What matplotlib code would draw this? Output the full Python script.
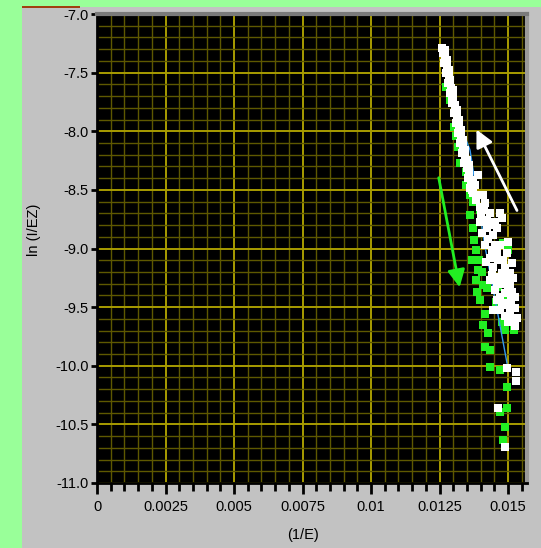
import matplotlib
matplotlib.use("Agg")
import matplotlib.pyplot as plt
from matplotlib.patches import Rectangle
from matplotlib.ticker import MultipleLocator

plt.rcParams["font.family"] = ["Liberation Sans", "DejaVu Sans"]

# white series (upper dense band + lower scatter)
white_x = [0.01259, 0.01263, 0.01270, 0.01266, 0.01277, 0.01274, 0.01285, 0.01281,
           0.01292, 0.01288, 0.01299, 0.01296, 0.01307, 0.01303, 0.01314, 0.01310,
           0.01321, 0.01318, 0.01329, 0.01325, 0.01336, 0.01332, 0.01343, 0.01339,
           0.01350, 0.01358, 0.01354, 0.01365, 0.01361, 0.01372,
           0.01270, 0.01285, 0.01299, 0.01314, 0.01329, 0.01343, 0.01358, 0.01372,
           0.01277, 0.01288, 0.01296, 0.01307, 0.01321, 0.01336, 0.01350,
           0.01380, 0.01391, 0.01391, 0.01409, 0.01398, 0.01416, 0.01423, 0.01434,
           0.01471, 0.01478, 0.01453, 0.01460, 0.01423, 0.01405, 0.01427, 0.01471,
           0.01500, 0.01442, 0.01496, 0.01464, 0.01445, 0.01515, 0.01478, 0.01507,
           0.01518, 0.01460, 0.01482, 0.01507, 0.01434, 0.01489, 0.01526, 0.01471,
           0.01453, 0.01478, 0.01500, 0.01445, 0.01507, 0.01526, 0.01489, 0.01526,
           0.01369, 0.01383, 0.01402, 0.01412, 0.01434, 0.01445, 0.01453, 0.01416,
           0.01434, 0.01460, 0.01482, 0.01489, 0.01467, 0.01493, 0.01500, 0.01515,
           0.01460, 0.01511, 0.01489, 0.01471, 0.01515, 0.01500, 0.01533, 0.01398,
           0.01420, 0.01442,
           0.01496, 0.01529, 0.01529, 0.01464, 0.01489]
white_y = [-7.290, -7.333, -7.375, -7.418, -7.461, -7.503, -7.546, -7.588,
           -7.631, -7.674, -7.716, -7.759, -7.802, -7.844, -7.887, -7.930,
           -7.972, -8.015, -8.058, -8.100, -8.143, -8.186, -8.228, -8.271,
           -8.313, -8.356, -8.399, -8.441, -8.484, -8.527,
           -7.307, -7.478, -7.648, -7.819, -7.989, -8.160, -8.288, -8.416,
           -7.392, -7.563, -7.691, -7.776, -7.904, -8.075, -8.245,
           -8.458, -8.373, -8.544, -8.544, -8.646, -8.612, -8.757, -8.697,
           -8.697, -8.740, -8.774, -8.825, -8.825, -8.868, -8.919, -8.970,
           -8.945, -9.013, -9.038, -9.098, -9.158, -9.124, -9.209, -9.209,
           -9.252, -9.294, -9.303, -9.320, -9.269, -9.380, -9.414, -9.414,
           -9.354, -9.465, -9.465, -9.525, -9.525, -9.507, -9.576, -9.661,
           -8.501, -8.586, -8.714, -8.672, -8.800, -8.885, -8.970, -8.970,
           -9.081, -9.030, -9.098, -9.166, -9.243, -9.252, -9.354, -9.371,
           -9.439, -9.439, -9.482, -9.525, -9.593, -9.627, -9.593, -8.774,
           -9.115, -9.226,
           -10.019, -10.053, -10.130, -10.360, -10.693]

# green series
green_x = [0.01274, 0.01288, 0.01303, 0.01310, 0.01318, 0.01325, 0.01347, 0.01361,
           0.01372, 0.01372, 0.01376, 0.01383, 0.01394, 0.01391, 0.01405, 0.01409,
           0.01423, 0.01387, 0.01416, 0.01427, 0.01416, 0.01434, 0.01471, 0.01478,
           0.01489, 0.01489, 0.01500, 0.01482, 0.01464, 0.01507, 0.01522, 0.01496,
           0.01471, 0.01496, 0.01489, 0.01482, 0.01398, 0.01456,
           0.01347, 0.01361, 0.01369, 0.01383, 0.01398, 0.01409, 0.01434]
green_y = [-7.623, -7.733, -7.964, -8.041, -8.134, -8.271, -8.348, -8.544,
           -8.603, -8.825, -8.928, -9.013, -9.098, -9.183, -9.200, -9.311,
           -9.337, -9.371, -9.559, -9.721, -9.840, -10.011, -10.036, -9.627,
           -9.695, -9.439, -9.013, -8.953, -9.328, -9.584, -9.695, -10.181,
           -10.394, -10.360, -10.522, -10.633, -8.672, -9.456,
           -8.458, -8.714, -9.098, -9.269, -9.439, -9.652, -9.866]

# blue connecting line
blue_x = [0.01347, 0.01361, 0.01416, 0.01460, 0.01496]
blue_y = [-8.075, -8.160, -8.987, -9.525, -9.977]

# arrows: (tail, tip)
white_arrow = [(0.01537, -8.697), (0.01380, -7.964)]
green_arrow = [(0.01245, -8.373), (0.01325, -9.354)]

W, H = 541, 548
fig = plt.figure(figsize=(W / 100, H / 100), dpi=100, facecolor="#99ff99")
fig.add_artist(Rectangle((22 / W, 0), 1 - 22 / W, 1 - 7 / H, transform=fig.transFigure,
                         facecolor="#c2c2c2", edgecolor="none", zorder=0))
fig.add_artist(Rectangle((22 / W, 1 - 8 / H), 58 / W, 2 / H, transform=fig.transFigure,
                         facecolor="#a04010", edgecolor="none", zorder=1))

ax = fig.add_axes([97 / W, 65 / H, 430 / W, 469 / H])
ax.set_facecolor("black")

ax.scatter(green_x, green_y, s=30, marker="s", color="#22ee22", linewidths=0, zorder=2)
ax.plot(blue_x, blue_y, color="#3399ee", lw=1, zorder=3)
ax.scatter(white_x, white_y, s=30, marker="s", color="white", linewidths=0, zorder=4)

ax.annotate("", xy=white_arrow[1], xytext=white_arrow[0],
            arrowprops=dict(arrowstyle="-|>", color="white", lw=2, mutation_scale=26), zorder=5)
ax.annotate("", xy=green_arrow[1], xytext=green_arrow[0],
            arrowprops=dict(arrowstyle="-|>", color="#22ee22", lw=2, mutation_scale=26), zorder=5)

ax.set_xlim(0, 0.01569)
ax.set_ylim(-11, -7)
ax.xaxis.set_major_locator(MultipleLocator(0.0025))
ax.xaxis.set_minor_locator(MultipleLocator(0.0005))
ax.yaxis.set_major_locator(MultipleLocator(0.5))
ax.yaxis.set_minor_locator(MultipleLocator(0.1))
ax.set_xticks([0, 0.0025, 0.005, 0.0075, 0.01, 0.0125, 0.015])
ax.set_xticklabels(["0", "0.0025", "0.005", "0.0075", "0.01", "0.0125", "0.015"])
ax.set_yticks([-7.0, -7.5, -8.0, -8.5, -9.0, -9.5, -10.0, -10.5, -11.0])
ax.set_yticklabels(["-7.0", "-7.5", "-8.0", "-8.5", "-9.0", "-9.5", "-10.0", "-10.5", "-11.0"])

ax.grid(which="major", color="#a89c00", lw=1.4, zorder=1)
ax.grid(which="minor", color="#5e5800", lw=1.0, zorder=1)
ax.set_axisbelow(True)

ax.tick_params(axis="x", which="major", length=8, width=2, pad=4, labelsize=10.5, colors="black")
ax.tick_params(axis="x", which="minor", length=6, width=2)
ax.tick_params(axis="y", which="major", length=4, width=2, pad=2, labelsize=10.5)
ax.tick_params(axis="y", which="minor", length=0)

for side in ["left", "bottom"]:
    ax.spines[side].set_color("black")
    ax.spines[side].set_linewidth(2)
ax.spines["top"].set_color("#7a7a7a")
ax.spines["top"].set_linewidth(3)
ax.spines["right"].set_color("#9a9a9a")
ax.spines["right"].set_linewidth(3)

ax.set_xlabel("(1/E)", fontsize=10.5)
ax.xaxis.set_label_coords(0.478, -0.095)
ax.set_ylabel("ln (I/EZ)", fontsize=10.5)
ax.yaxis.set_label_coords(-0.13, 0.54)

fig.savefig("out.png", dpi=100, facecolor=fig.get_facecolor())
